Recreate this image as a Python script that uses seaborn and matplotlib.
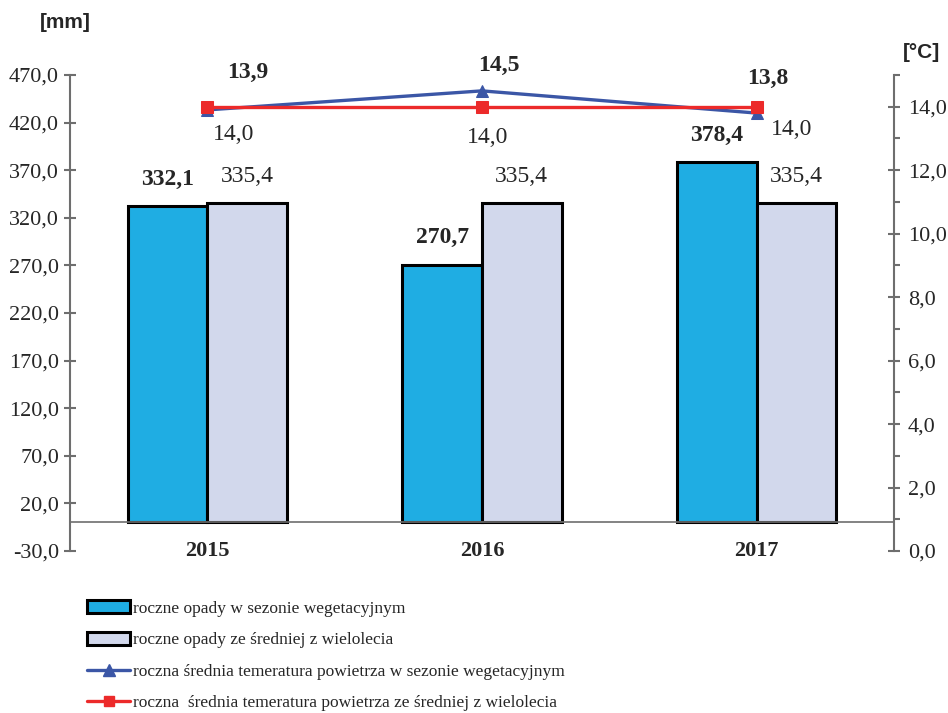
import numpy as np
import pandas as pd
import matplotlib
matplotlib.use('Agg')
import matplotlib.pyplot as plt
import seaborn as sns
from matplotlib.patches import Patch
from matplotlib.lines import Line2D
from matplotlib.ticker import FuncFormatter, MultipleLocator

# data
years = ['2015', '2016', '2017']
rain_season = [332.1, 270.7, 378.4]
rain_longterm = [335.4, 335.4, 335.4]
temp_season = [13.9, 14.5, 13.8]
temp_longterm = [14.0, 14.0, 14.0]

series_labels = [
    'roczne opady w sezonie wegetacyjnym',
    'roczne opady ze średniej z wielolecia',
    'roczna średnia temeratura powietrza w sezonie wegetacyjnym',
    'roczna  średnia temeratura powietrza ze średniej z wielolecia',
]

# colours
c_bar1 = '#1fade3'
c_bar2 = '#d2d8ec'
c_line1 = '#3b56a6'
c_line2 = '#ec2a2a'
c_axis = '#6e6e6e'

sns.set_style('white')
plt.rcParams['font.family'] = ['Liberation Serif', 'DejaVu Serif']


def comma(v, pos=None):
    return f"{v:.1f}".replace('.', ',')


df = pd.DataFrame({
    'rok': years * 2,
    'opady': rain_season + rain_longterm,
    'seria': [series_labels[0]] * 3 + [series_labels[1]] * 3,
})

fig = plt.figure(figsize=(9.48, 7.13), dpi=100)
ax = fig.add_axes([70 / 948, 1 - 551 / 713, (894 - 70) / 948, (551 - 75) / 713])

sns.barplot(data=df, x='rok', y='opady', hue='seria', palette=[c_bar1, c_bar2],
            saturation=1, edgecolor='black', linewidth=2.2, width=0.58,
            legend=False, ax=ax)

ax.set_xlim(-0.5, 2.5)
ax.set_ylim(-30, 470)
ax.set_yticks(np.arange(-30, 471, 50))
ax.yaxis.set_major_formatter(FuncFormatter(comma))
ax.axhline(0, color=c_axis, lw=1.2, zorder=1)
ax.set_xlabel('')
ax.set_ylabel('')

for s in ['top', 'bottom', 'right']:
    ax.spines[s].set_visible(False)
ax.spines['left'].set_color(c_axis)
ax.spines['left'].set_linewidth(1.5)
ax.tick_params(axis='y', direction='inout', length=8, width=1.5, color=c_axis,
               labelsize=16, pad=4, left=True)
ax.tick_params(axis='x', length=0, labelsize=16, pad=0)
for lab in ax.get_xticklabels():
    lab.set_fontweight('bold')
    lab.set_va('center')

# bar value labels
for k, cont in enumerate(ax.containers):
    for bar, v in zip(cont, [rain_season, rain_longterm][k]):
        ax.annotate(comma(v), (bar.get_x() + bar.get_width() / 2, bar.get_height()),
                    xytext=(0, 27), textcoords='offset pixels', ha='center', va='center',
                    fontsize=17, fontweight='bold' if k == 0 else 'normal')

# temperature on right axis
ax2 = ax.twinx()
xs = np.arange(len(years))
sns.lineplot(x=xs, y=temp_season, color=c_line1, lw=2.4, marker='^', markersize=9,
             markeredgecolor=c_line1, ax=ax2)
sns.lineplot(x=xs, y=temp_longterm, color=c_line2, lw=2.4, marker='s', markersize=8,
             markeredgecolor=c_line2, ax=ax2)
ax2.set_ylim(0, 15)
ax2.yaxis.set_major_locator(MultipleLocator(2))
ax2.yaxis.set_minor_locator(MultipleLocator(1))
ax2.yaxis.set_major_formatter(FuncFormatter(comma))
for s in ['top', 'bottom', 'left']:
    ax2.spines[s].set_visible(False)
ax2.spines['right'].set_color(c_axis)
ax2.spines['right'].set_linewidth(1.5)
ax2.tick_params(axis='y', which='major', direction='inout', length=8, width=1.5,
                color=c_axis, labelsize=16, pad=6, right=True)
ax2.tick_params(axis='y', which='minor', direction='out', length=4, width=1.5,
                color=c_axis, right=True)
ax2.set_ylabel('')

season_offsets = [(40, 37), (17, 25), (11, 35)]
longterm_offsets = [(26, -28), (6, -31), (35, -23)]
for i in range(len(years)):
    ax2.annotate(comma(temp_season[i]), (xs[i], temp_season[i]), xytext=season_offsets[i],
                 textcoords='offset pixels', ha='center', va='center',
                 fontsize=17, fontweight='bold')
    ax2.annotate(comma(temp_longterm[i]), (xs[i], temp_longterm[i]), xytext=longterm_offsets[i],
                 textcoords='offset pixels', ha='center', va='center', fontsize=17)

# unit labels
fig.text(65 / 948, 1 - 22 / 713, '[mm]', ha='center', va='center', fontsize=15,
         fontweight='bold', family='Liberation Sans')
fig.text(922 / 948, 1 - 52 / 713, '[°C]', ha='center', va='center', fontsize=15,
         fontweight='bold', family='Liberation Sans')

handles = [
    Patch(facecolor=c_bar1, edgecolor='black', linewidth=2.2),
    Patch(facecolor=c_bar2, edgecolor='black', linewidth=2.2),
    Line2D([], [], color=c_line1, lw=2.4, marker='^', markersize=9),
    Line2D([], [], color=c_line2, lw=2.4, marker='s', markersize=7),
]
fig.legend(handles, series_labels, loc='upper left', bbox_to_anchor=(87 / 948, 1 - 600 / 713),
           frameon=False, fontsize=12.5, handlelength=2.5, handleheight=0.8,
           handletextpad=0.15, labelspacing=0.86, borderaxespad=0, borderpad=0)

fig.savefig('out.png', dpi=100)
